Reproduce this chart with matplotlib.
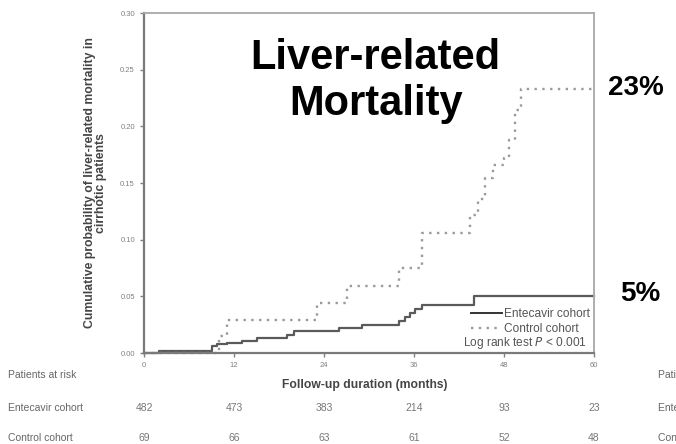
import matplotlib
matplotlib.use("Agg")
import matplotlib.pyplot as plt
import matplotlib.transforms as mtransforms
from matplotlib.lines import Line2D

plt.rcParams["font.family"] = ["Liberation Sans", "DejaVu Sans"]

# step curves (months, cumulative probability)
entecavir_t = [0, 2, 9, 9.7, 11, 13, 15, 19, 20, 26, 29, 34, 34.8, 35.5, 36.1, 37, 44, 60]
entecavir_p = [0, 0.002, 0.006, 0.008, 0.009, 0.011, 0.013, 0.016, 0.019, 0.022, 0.025,
               0.028, 0.032, 0.035, 0.039, 0.042, 0.050, 0.050]
control_t = [0, 10, 11, 23, 27, 34, 37, 43.5, 44.5, 45.5, 46.5, 48, 48.7, 49.5, 50.2, 60]
control_p = [0, 0.015, 0.029, 0.044, 0.059, 0.075, 0.106, 0.122, 0.136, 0.154, 0.166,
             0.172, 0.188, 0.214, 0.233, 0.233]

risk_months = [0, 12, 24, 36, 48, 60]
risk_entecavir = [482, 473, 383, 214, 93, 23]
risk_control = [69, 66, 63, 61, 52, 48]

dotted = (0, (1, 2.3))

fig = plt.figure(figsize=(6.76, 4.44), dpi=100)
ax = fig.add_axes([144 / 676, 1 - 353 / 444, 450 / 676, 340 / 444])

ax.step(entecavir_t, entecavir_p, where="post", color="#5a5a5a", lw=1.6, clip_on=False)
ax.step(control_t, control_p, where="post", color="#9a9a9a", lw=1.7,
        linestyle=dotted, clip_on=False)

ax.set_xlim(0, 60)
ax.set_ylim(0, 0.30)
ax.set_xticks(risk_months)
ax.set_yticks([0, 0.05, 0.10, 0.15, 0.20, 0.25, 0.30])
ax.set_yticklabels([f"{v:.2f}" for v in ax.get_yticks()])
ax.tick_params(labelsize=5.5, labelcolor="#808080", color="#808080", length=3, width=1)

for side in ["left", "bottom"]:
    ax.spines[side].set_color("#7a7a7a")
    ax.spines[side].set_linewidth(1.6)
for side in ["top", "right"]:
    ax.spines[side].set_color("#a8a8a8")
    ax.spines[side].set_linewidth(1.3)

ax.set_ylabel("Cumulative probability of liver-related mortality in\ncirrhotic patients",
              fontsize=8.8, fontweight="bold", color="#444444", linespacing=0.95)
ax.yaxis.set_label_coords(-0.082, 0.5)
ax.set_xlabel("Follow-up duration (months)", fontsize=8.7, fontweight="bold", color="#444444")
ax.xaxis.set_label_coords(0.49, -0.076)

handles = [Line2D([], [], color="#333333", lw=1.4),
           Line2D([], [], color="#9a9a9a", lw=1.7, linestyle=dotted)]
ax.legend(handles, ["Entecavir cohort", "Control cohort"], loc="upper right",
          bbox_to_anchor=(0.99, 0.131), frameon=False, fontsize=8.6, handlelength=2.6,
          handletextpad=0.1, labelspacing=0.2, labelcolor="#555555", borderaxespad=0,
          borderpad=0)
ax.text(0.984, 0.029, "Log rank test $P$ < 0.001", transform=ax.transAxes, ha="right",
        va="center", fontsize=8.6, color="#555555")

ax.text(0.515, 0.8, "Liver-related\nMortality", transform=ax.transAxes, ha="center",
        va="center", fontsize=30, fontweight="bold", color="black", linespacing=1.22)

fig.text(636 / 676, 1 - 88 / 444, "23%", ha="center", va="center", fontsize=20,
         fontweight="bold")
fig.text(640 / 676, 1 - 294 / 444, "5%", ha="center", va="center", fontsize=20,
         fontweight="bold")

# patients at risk table
trans = mtransforms.blended_transform_factory(ax.transData, fig.transFigure)
row_y = [1 - 375 / 444, 1 - 408 / 444, 1 - 438 / 444]
row_names = ["Patients at risk", "Entecavir cohort", "Control cohort"]
for name, y in zip(row_names, row_y):
    fig.text(8 / 676, y, name, ha="left", va="center", fontsize=7.5, color="#666666")
    # cut-off copy of the neighbouring panel at the right edge
    fig.text(658 / 676, y, name, ha="left", va="center", fontsize=7.5, color="#666666")
for m, e, c in zip(risk_months, risk_entecavir, risk_control):
    ax.text(m, row_y[1], str(e), transform=trans, ha="center", va="center",
            fontsize=7.5, color="#777777")
    ax.text(m, row_y[2], str(c), transform=trans, ha="center", va="center",
            fontsize=7.5, color="#777777")

fig.savefig("out.png", dpi=100)
